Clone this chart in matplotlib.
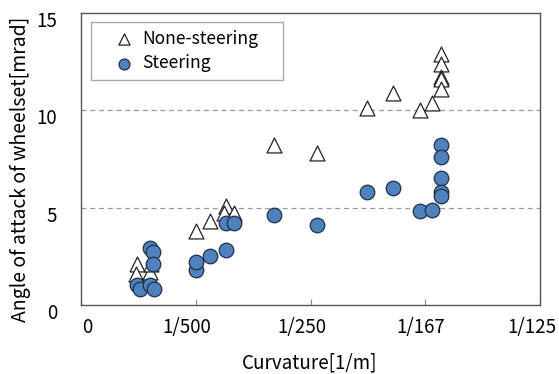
import matplotlib
matplotlib.use('Agg')
import matplotlib.pyplot as plt
from matplotlib.transforms import ScaledTranslation

plt.rcParams['font.family'] = ['Noto Sans CJK JP', 'DejaVu Sans']

# curvature [1/m] and angle of attack [mrad]
none_x = [0.00098, 0.00096, 0.00120, 0.00122, 0.00201, 0.00224, 0.00252, 0.00249, 0.00266,
          0.00337, 0.00412, 0.00498, 0.00543, 0.00590, 0.00611,
          0.00627, 0.00627, 0.00627, 0.00627, 0.00627]
none_y = [2.1, 1.6, 1.7, 2.1, 3.8, 4.3, 5.1, 4.7, 4.7,
          8.2, 7.8, 10.1, 10.9, 10.0, 10.4,
          12.9, 12.4, 11.7, 11.6, 11.1]

steer_x = [0.00098, 0.00102, 0.00120, 0.00125, 0.00125, 0.00120, 0.00127,
           0.00200, 0.00201, 0.00224, 0.00252, 0.00252, 0.00266,
           0.00337, 0.00412, 0.00498, 0.00543, 0.00590, 0.00611,
           0.00627, 0.00627, 0.00627, 0.00627, 0.00627]
steer_y = [1.0, 0.8, 2.9, 2.7, 2.1, 1.0, 0.8,
           1.8, 2.2, 2.5, 2.8, 4.2, 4.2,
           4.6, 4.1, 5.8, 6.0, 4.8, 4.9,
           8.2, 7.6, 6.5, 5.8, 5.6]

xticks = [0, 0.002, 0.004, 0.006, 0.008]
xlabels = ['0', '1/500', '1/250', '1/167', '1/125']
yticks = [0, 5, 10, 15]

fig = plt.figure(figsize=(5.59, 3.74), dpi=100)
ax = fig.add_axes([0.145, 0.185, 0.821, 0.78])

for y in [5, 10]:
    ax.axhline(y, color='#999999', linestyle=(0, (4, 3)), linewidth=0.9, zorder=1)

ax.scatter(none_x, none_y, marker='^', s=115, facecolor='white', edgecolor='#222222',
           linewidth=0.9, zorder=3, label='None-steering')
ax.scatter(steer_x, steer_y, marker='o', s=110, facecolor='#4F81BD', edgecolor='#1f2f45',
           linewidth=0.9, zorder=4, label='Steering')

ax.set_xlim(0, 0.008)
ax.set_ylim(0, 15)
ax.set_xticks(xticks)
ax.set_xticklabels(xlabels)
ax.set_yticks(yticks)
ax.tick_params(axis='x', direction='in', length=4, color='#888888', labelsize=13.5, pad=9)
ax.tick_params(axis='y', length=0, labelsize=13.5, pad=17)
for sp in ax.spines.values():
    sp.set_color('#555555')
    sp.set_linewidth(1.0)

# excel-ish label placement (pixel offsets)
x_shift = [6, -9, -9, -5, -8]
for lab, dx in zip(ax.get_xticklabels(), x_shift):
    lab.set_transform(lab.get_transform() + ScaledTranslation(dx / 100, 0, fig.dpi_scale_trans))
for lab in ax.get_yticklabels():
    lab.set_transform(lab.get_transform() + ScaledTranslation(0, -6 / 100, fig.dpi_scale_trans))

ax.set_xlabel('Curvature[1/m]', fontsize=13.5)
ax.set_ylabel('Angle of attack of wheelset[mrad]', fontsize=14)
ax.xaxis.set_label_coords(0.497, -0.165)
ax.yaxis.set_label_coords(-0.108, 0.465)

leg = ax.legend(loc='upper left', bbox_to_anchor=(0.022, 0.5, 0.418, 0.469), mode='expand',
                borderaxespad=0, fontsize=12.6, frameon=True, fancybox=False,
                borderpad=0.45, handlelength=2.9, handletextpad=-0.45,
                labelspacing=0.35, markerscale=0.75)
leg.get_frame().set_edgecolor('#aaaaaa')
leg.get_frame().set_linewidth(1.0)
leg.get_frame().set_alpha(1)

fig.savefig('out.png', dpi=100)
